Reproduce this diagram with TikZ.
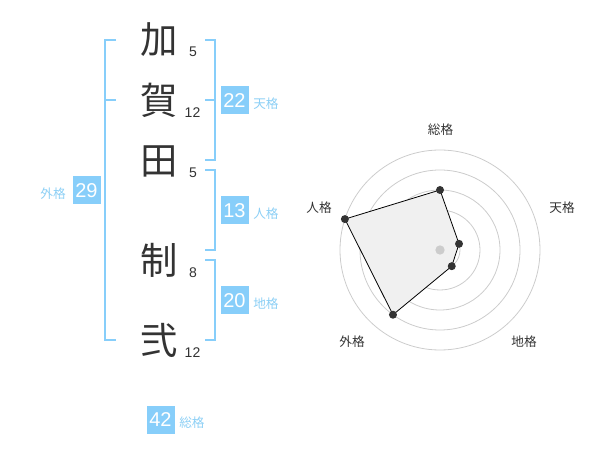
\documentclass[tikz,border=0pt]{standalone}
\usepackage{fontspec}
\setmainfont{Liberation Sans}
\newfontfamily\cjk{Noto Sans CJK JP}
\definecolor{kblue}{HTML}{87CEFA}
\definecolor{klabel}{HTML}{8CCFF5}
\definecolor{kdark}{HTML}{333333}
\definecolor{kgrid}{HTML}{CCCCCC}
\definecolor{kfill}{HTML}{F0F0F0}
\begin{document}
\begin{tikzpicture}[x=0.75pt,y=-0.75pt,
  kanji/.style={font=\cjk\fontsize{28}{30}\selectfont,text=kdark,inner sep=0pt},
  strokes/.style={font=\fontsize{10.5}{12}\selectfont,text=kdark,inner sep=0pt},
  numbox/.style={fill=kblue,text=white,minimum width=21pt,minimum height=21pt,inner sep=0pt,font=\fontsize{15}{16}\selectfont},
  kaku/.style={font=\cjk\fontsize{9.5}{11}\selectfont,text=klabel,inner sep=0pt},
  rlabel/.style={font=\cjk\fontsize{9.5}{11}\selectfont,text=kdark,inner sep=0pt},
  bracket/.style={draw=kblue,line width=1.5pt},
  grid/.style={draw=kgrid,line width=0.6pt},
  dot/.style={circle,fill=kdark,inner sep=0pt,minimum size=6pt}]
\useasboundingbox (0,0) rectangle (600,470);
% kanji
\node[kanji] (k1) at (159.5,40) {加};
\node[kanji] (k2) at (159.5,100) {賀};
\node[kanji] (k3) at (159.5,161) {田};
\node[kanji] (k4) at (159.5,260) {制};
\node[kanji] (k5) at (159.5,340) {弐};
% strokes
\node[strokes] (s1) at (193,52) {5};
\node[strokes] (s2) at (192.5,113) {12};
\node[strokes] (s3) at (193,173) {5};
\node[strokes] (s4) at (193,273) {8};
\node[strokes] (s5) at (192.5,352.5) {12};
% brackets
\draw[bracket] (116,40) -- (105,40) -- (105,340) -- (116,340);
\draw[bracket] (105,100) -- (116,100);
\draw[bracket] (205,40) -- (215,40) -- (215,160) -- (205,160);
\draw[bracket] (205,100) -- (215,100);
\draw[bracket] (205,170) -- (215,170) -- (215,250) -- (205,250);
\draw[bracket] (205,260) -- (215,260) -- (215,340) -- (205,340);
% boxes
\node[numbox] (b1) at (234.5,100.5) {22};
\node[kaku,anchor=west] (l1) at (253,104) {天格};
\node[numbox] (b2) at (234.5,210.5) {13};
\node[kaku,anchor=west] (l2) at (253,214) {人格};
\node[numbox] (b3) at (234.5,300.5) {20};
\node[kaku,anchor=west] (l3) at (253,304) {地格};
\node[numbox] (b4) at (86.5,190.5) {29};
\node[kaku,anchor=east] (l4) at (66,194) {外格};
\node[numbox] (b5) at (160.5,419.5) {42};
\node[kaku,anchor=west] (l5) at (179,423) {総格};
% radar
\begin{scope}[shift={(440,250)},yscale=-1]
  \foreach \r in {20,40,60,80,100} \draw[grid] (0,0) circle[radius=\r];
  \coordinate (ps) at (90:60);
  \coordinate (pt) at (18:20);
  \coordinate (pc) at (-54:20);
  \coordinate (pg) at (-126:80);
  \coordinate (pj) at (162:100);
  \filldraw[fill=kfill,draw=black,line width=0.6pt] (ps) -- (pt) -- (pc) -- (pg) -- (pj) -- cycle;
  \node[circle,fill=kgrid,inner sep=0pt,minimum size=7pt] (ctr) at (0,0) {};
  \foreach \p in {ps,pt,pc,pg,pj} \node[dot] at (\p) {};
\end{scope}
\node[rlabel] (r1) at (440.5,130) {総格};
\node[rlabel] (r2) at (562,208) {天格};
\node[rlabel] (r3) at (319,208) {人格};
\node[rlabel] (r4) at (524,342) {地格};
\node[rlabel] (r5) at (352,342) {外格};
\end{tikzpicture}
\end{document}
